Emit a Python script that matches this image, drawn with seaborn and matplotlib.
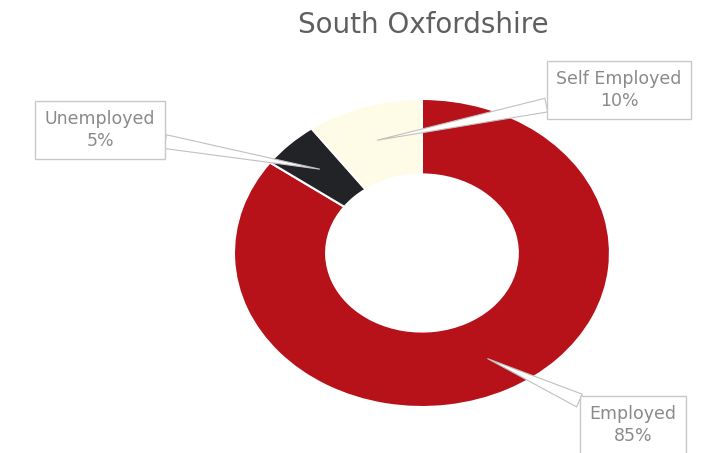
import numpy as np
import seaborn as sns
import matplotlib as mpl
import matplotlib.pyplot as plt

mpl.use('Agg')

# data
categories = ['Employed', 'Unemployed', 'Self Employed']
shares = [85, 5, 10]
slice_colors = ['#b71119', '#222326', '#fefce6']
title = 'South Oxfordshire'

sns.set_theme(style='white')
plt.rcParams['font.family'] = ['DejaVu Sans']

fig = plt.figure(figsize=(7.08, 4.53), dpi=100)
# the donut in the reference is stretched sideways, so the axes is not square
ax = fig.add_axes([0.3305, 0.1015, 0.531, 0.680])

wedges, _ = ax.pie(shares, colors=slice_colors, startangle=90, counterclock=False,
                   radius=1, wedgeprops=dict(width=0.49, edgecolor='white', linewidth=1.5))
ax.set_aspect('auto')
ax.set_xlim(-1, 1)
ax.set_ylim(-1, 1)
ax.axis('off')

fig.text(423 / 708, 1 - 25 / 453, title, ha='center', va='center',
         fontsize=20, color='#5f5f5f')

# label boxes (figure pixels, origin bottom-left)
label_pos = {'Unemployed': (100, 323), 'Self Employed': (619, 363), 'Employed': (633, 28)}

for w, cat, val in zip(wedges, categories, shares):
    mid = np.deg2rad((w.theta1 + w.theta2) / 2)
    r = 0.77
    ax.annotate(f'{cat}\n{val}%', xy=(r * np.cos(mid), r * np.sin(mid)), xycoords='data',
                xytext=label_pos[cat], textcoords='figure pixels',
                ha='center', va='center', fontsize=12.5, color='#8a8a8a', linespacing=1.25,
                bbox=dict(boxstyle='square,pad=0.55', fc='white', ec='#c8c8c8', lw=1),
                arrowprops=dict(arrowstyle='wedge,tail_width=0.8', fc='white',
                                ec='#c0c0c0', lw=0.8, shrinkA=0, shrinkB=0),
                annotation_clip=False)

fig.savefig('out.png', dpi=100)
